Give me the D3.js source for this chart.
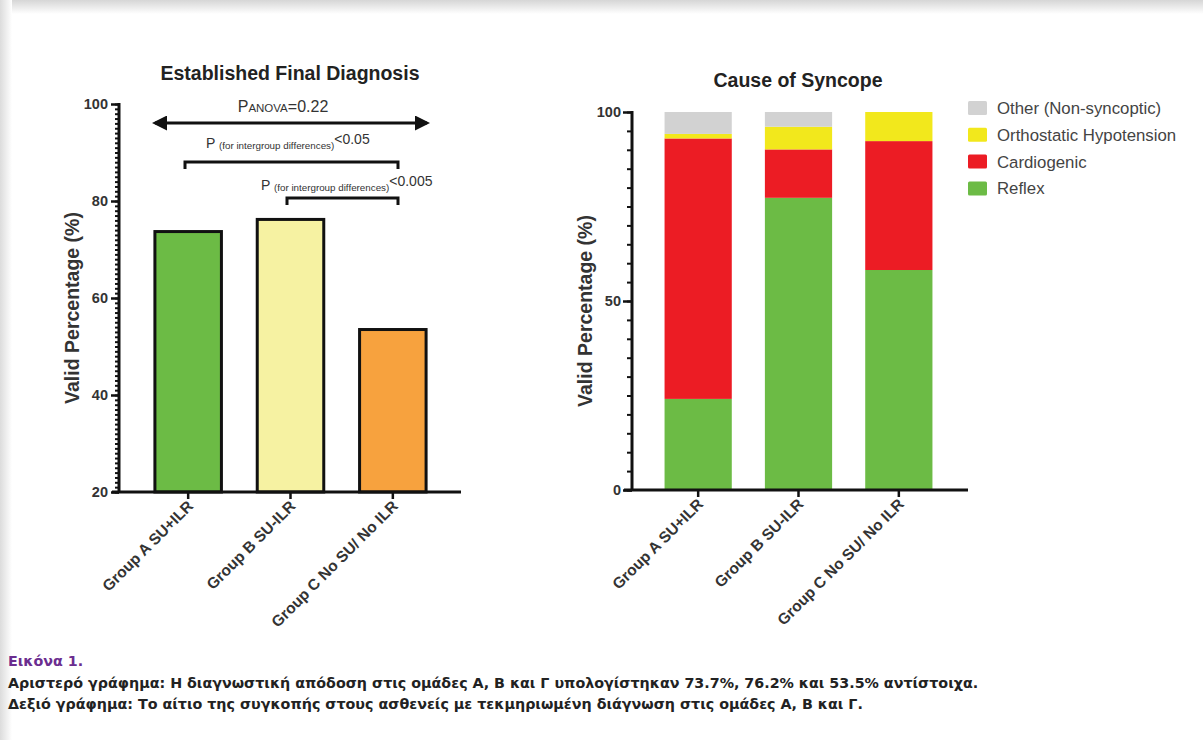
<!DOCTYPE html>
<html>
<head>
<meta charset="utf-8">
<script src="https://cdn.jsdelivr.net/npm/d3@7"></script>
<style>
  body { margin: 0; background: #fff; }
  svg { display: block; font-family: "Liberation Sans", Arial, sans-serif; }
</style>
</head>
<body>
<svg width="1203" height="751"></svg>
<script>
// ---- data ----
var groups = ["Group A SU+ILR", "Group B SU-ILR", "Group C No SU/ No ILR"];
var diagnosisPct = [73.7, 76.2, 53.5];
var diagnosisColors = ["#6cbb45", "#f6f2a2", "#f7a23e"];

var causes = ["Reflex", "Cardiogenic", "Orthostatic Hypotension", "Other (Non-syncoptic)"];
var reflex = [24.1, 77.3, 58.2];
var cardiogenic = [68.9, 12.8, 34.1];
var orthostatic = [1.2, 6.0, 7.7];
var other = [5.8, 3.9, 0];
var causeColors = ["#6cbb45", "#ec1c24", "#f2e81c", "#d2d2d2"];

var leftTicks = [20, 40, 60, 80, 100];
var rightTicks = [0, 50, 100];

var captionTitle = "Εικόνα 1.";
var captionLines = [
  "Αριστερό γράφημα: Η διαγνωστική απόδοση στις ομάδες Α, Β και Γ υπολογίστηκαν 73.7%, 76.2% και 53.5% αντίστοιχα.",
  "Δεξιό γράφημα: Το αίτιο της συγκοπής στους ασθενείς με τεκμηριωμένη διάγνωση στις ομάδες Α, Β και Γ."
];

var svg = d3.select("svg");

// page frame shading (top and left edges)
var defs = svg.append("defs");
var gTop = defs.append("linearGradient").attr("id", "gTop").attr("x1", 0).attr("y1", 0).attr("x2", 0).attr("y2", 1);
gTop.append("stop").attr("offset", "0%").attr("stop-color", "#d6d6d6");
gTop.append("stop").attr("offset", "100%").attr("stop-color", "#fff");
var gLeft = defs.append("linearGradient").attr("id", "gLeft").attr("x1", 0).attr("y1", 0).attr("x2", 1).attr("y2", 0);
gLeft.append("stop").attr("offset", "0%").attr("stop-color", "#dcdcdc");
gLeft.append("stop").attr("offset", "100%").attr("stop-color", "#fff");
svg.append("rect").attr("x", 0).attr("y", 0).attr("width", 1203).attr("height", 14).attr("fill", "url(#gTop)");
svg.append("rect").attr("x", 0).attr("y", 0).attr("width", 12).attr("height", 740).attr("fill", "url(#gLeft)");

// arrow marker
defs.append("marker").attr("id", "arrow").attr("viewBox", "0 0 10 10")
  .attr("refX", 8).attr("refY", 5).attr("markerWidth", 5).attr("markerHeight", 5)
  .attr("markerUnits", "strokeWidth").attr("orient", "auto-start-reverse")
  .append("path").attr("d", "M0,0L10,5L0,10z").attr("fill", "#111");

function styleAxis(g, labelSize) {
  g.select(".domain").remove();
  g.selectAll(".tick line").attr("stroke", "#111").attr("stroke-width", 2.5);
  g.selectAll(".tick text").attr("fill", "#333").attr("font-weight", "bold")
    .attr("font-size", labelSize).attr("font-family", "Liberation Sans, Arial, sans-serif");
}

function xLabels(g, x, axisY) {
  g.selectAll("text.xl").data(groups).enter().append("text")
    .attr("class", "xl")
    .attr("transform", function (d) {
      return "translate(" + (x(d) + x.bandwidth() / 2 + 6) + "," + (axisY + 15) + ") rotate(-45)";
    })
    .attr("text-anchor", "end")
    .attr("font-size", 15.5).attr("font-weight", "bold").attr("fill", "#333")
    .text(function (d) { return d; });
}

// ================= LEFT CHART =================
var L = { left: 119, right: 461, top: 104, bottom: 492 };
var xL = d3.scaleBand().domain(groups).range([137, 444]).paddingInner(0.35).paddingOuter(0.175);
var yL = d3.scaleLinear().domain([20, 100]).range([L.bottom, L.top]);
var left = svg.append("g");

left.append("text").attr("x", 290).attr("y", 80).attr("text-anchor", "middle")
  .attr("font-size", 19.5).attr("font-weight", "bold").attr("fill", "#222")
  .text("Established Final Diagnosis");

left.selectAll("rect.bar").data(groups).enter().append("rect")
  .attr("class", "bar")
  .attr("x", function (d) { return xL(d); })
  .attr("width", xL.bandwidth())
  .attr("y", function (d, i) { return yL(diagnosisPct[i]); })
  .attr("height", function (d, i) { return yL(20) - yL(diagnosisPct[i]); })
  .attr("fill", function (d, i) { return diagnosisColors[i]; })
  .attr("stroke", "#111").attr("stroke-width", 3);

// minor ticks
left.append("g").attr("transform", "translate(" + L.left + ",0)")
  .call(d3.axisLeft(yL).tickValues(d3.range(20, 101, 1)).tickSize(4).tickFormat(""))
  .call(function (g) { styleAxis(g, 14.5); g.selectAll(".tick line").attr("stroke-width", 2); });
left.append("g").attr("transform", "translate(" + L.left + ",0)")
  .call(d3.axisLeft(yL).tickValues(leftTicks).tickSize(8).tickPadding(3))
  .call(function (g) { styleAxis(g, 14.5); });
left.append("line").attr("x1", L.left).attr("x2", L.left).attr("y1", L.top - 1).attr("y2", L.bottom)
  .attr("stroke", "#111").attr("stroke-width", 3);
left.append("g").attr("transform", "translate(0," + L.bottom + ")")
  .call(d3.axisBottom(xL).tickSize(7).tickFormat(""))
  .call(function (g) { styleAxis(g, 14.5); });
left.append("line").attr("x1", 112).attr("x2", L.right).attr("y1", L.bottom).attr("y2", L.bottom)
  .attr("stroke", "#111").attr("stroke-width", 3);
xLabels(left, xL, L.bottom);

left.append("text").attr("transform", "translate(79,308) rotate(-90)")
  .attr("text-anchor", "middle").attr("font-size", 19.5).attr("font-weight", "bold").attr("fill", "#333")
  .text("Valid Percentage (%)");

// annotations
var anova = left.append("text").attr("x", 283).attr("y", 112).attr("text-anchor", "middle")
  .attr("fill", "#333").attr("font-size", 16);
anova.append("tspan").text("P");
anova.append("tspan").attr("font-size", 11.5).text("ANOVA");
anova.append("tspan").text("=0.22");

left.append("line").attr("x1", 155).attr("x2", 427).attr("y1", 123).attr("y2", 123)
  .attr("stroke", "#111").attr("stroke-width", 3)
  .attr("marker-start", "url(#arrow)").attr("marker-end", "url(#arrow)");

function pText(x, y, val) {
  var t = left.append("text").attr("x", x).attr("y", y).attr("fill", "#333").attr("font-size", 14);
  t.append("tspan").text("P ");
  t.append("tspan").attr("font-size", 9.8).attr("dy", 1).text("(for intergroup differences)");
  t.append("tspan").attr("dy", -5).text(val);
}
function bracket(x1, x2, y) {
  left.append("path").attr("d", "M" + x1 + "," + (y + 7) + "V" + y + "H" + x2 + "V" + (y + 7))
    .attr("fill", "none").attr("stroke", "#111").attr("stroke-width", 3);
}
pText(206, 148, "<0.05");
bracket(185, 398, 162);
pText(261, 190, "<0.005");
bracket(287, 398, 198);

// ================= RIGHT CHART =================
var R = { left: 632, right: 968, top: 112, bottom: 490 };
var xR = d3.scaleBand().domain(groups).range([648, 949]).paddingInner(0.33).paddingOuter(0.165);
var yR = d3.scaleLinear().domain([0, 100]).range([R.bottom, R.top]);
var right = svg.append("g");

right.append("text").attr("x", 798).attr("y", 87).attr("text-anchor", "middle")
  .attr("font-size", 19.5).attr("font-weight", "bold").attr("fill", "#222")
  .text("Cause of Syncope");

var table = groups.map(function (g, i) {
  return { group: g, "Reflex": reflex[i], "Cardiogenic": cardiogenic[i],
    "Orthostatic Hypotension": orthostatic[i], "Other (Non-syncoptic)": other[i] };
});
var series = d3.stack().keys(causes)(table);
right.selectAll("g.series").data(series).enter().append("g")
  .attr("fill", function (d, i) { return causeColors[i]; })
  .selectAll("rect").data(function (d) { return d; }).enter().append("rect")
  .attr("x", function (d) { return xR(d.data.group); })
  .attr("width", xR.bandwidth())
  .attr("y", function (d) { return yR(d[1]); })
  .attr("height", function (d) { return yR(d[0]) - yR(d[1]); });

right.append("g").attr("transform", "translate(" + R.left + ",0)")
  .call(d3.axisLeft(yR).tickValues(d3.range(0, 101, 5)).tickSize(5).tickFormat(""))
  .call(function (g) { styleAxis(g, 14.5); g.selectAll(".tick line").attr("stroke-width", 2); });
right.append("g").attr("transform", "translate(" + R.left + ",0)")
  .call(d3.axisLeft(yR).tickValues(rightTicks).tickSize(9).tickPadding(2))
  .call(function (g) { styleAxis(g, 14.5); });
right.append("line").attr("x1", R.left).attr("x2", R.left).attr("y1", R.top - 1).attr("y2", R.bottom)
  .attr("stroke", "#111").attr("stroke-width", 3);
right.append("g").attr("transform", "translate(0," + R.bottom + ")")
  .call(d3.axisBottom(xR).tickSize(7).tickFormat(""))
  .call(function (g) { styleAxis(g, 14.5); });
right.append("line").attr("x1", 624).attr("x2", R.right).attr("y1", R.bottom).attr("y2", R.bottom)
  .attr("stroke", "#111").attr("stroke-width", 3);
xLabels(right, xR, R.bottom);

right.append("text").attr("transform", "translate(592,311) rotate(-90)")
  .attr("text-anchor", "middle").attr("font-size", 19.5).attr("font-weight", "bold").attr("fill", "#333")
  .text("Valid Percentage (%)");

// legend (top to bottom: reverse of stack order)
var legendKeys = causes.slice().reverse();
var legend = right.selectAll("g.leg").data(legendKeys).enter().append("g")
  .attr("transform", function (d, i) { return "translate(968," + (101 + i * 26.8) + ")"; });
legend.append("rect").attr("width", 19).attr("height", 14).attr("rx", 1.5)
  .attr("fill", function (d) { return causeColors[causes.indexOf(d)]; });
legend.append("text").attr("x", 29).attr("y", 13).attr("font-size", 16.8).attr("fill", "#444")
  .text(function (d) { return d; });

// ================= CAPTION =================
// font size fitted so that the first caption line spans like the original
var capFont = "DejaVu Sans, sans-serif";
var probe = svg.append("text").attr("font-family", capFont).attr("font-size", 13)
  .attr("font-weight", "bold").text(captionLines[0]);
var capSize = 13 * 971 / probe.node().getComputedTextLength();
probe.remove();

svg.append("text").attr("x", 8).attr("y", 666).attr("font-family", capFont)
  .attr("font-size", capSize).attr("font-weight", "bold").attr("fill", "#6b2d8f").text(captionTitle);
svg.selectAll("text.cap").data(captionLines).enter().append("text")
  .attr("class", "cap")
  .attr("x", 8).attr("y", function (d, i) { return 688 + i * 21; })
  .attr("font-family", capFont).attr("font-size", capSize).attr("font-weight", "bold")
  .attr("fill", "#222").text(function (d) { return d; });
</script>
</body>
</html>
